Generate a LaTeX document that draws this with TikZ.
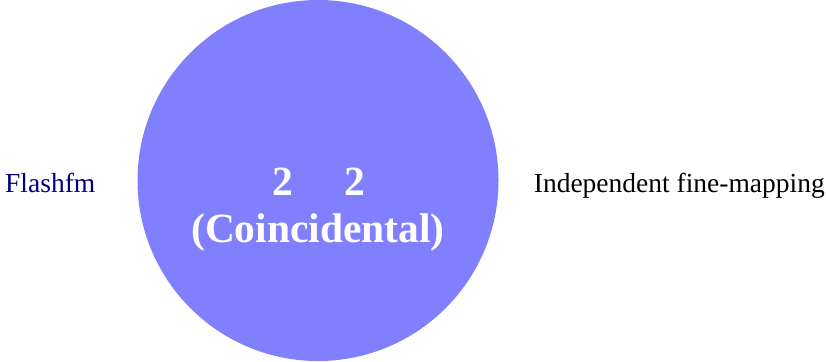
\documentclass[tikz,border=0pt]{standalone}
\usepackage{fontspec}
\setmainfont{Liberation Serif}
\usetikzlibrary{positioning}
\definecolor{vennblue}{HTML}{8080FF}
\definecolor{flashblue}{HTML}{000080}

\begin{document}
\begin{tikzpicture}[x=1pt,y=-1pt,
    setlabel/.style={inner sep=0pt, font=\fontsize{27.5}{30}\selectfont},
    countlabel/.style={inner sep=0pt, text=white, font=\fontsize{41.5}{44}\selectfont\bfseries}]
        % Page size
        \useasboundingbox (0,0) rectangle (826,361);
        % Circle
        \fill[vennblue] (318,180.5) circle (180.5);
        % Counts
        \node[countlabel, anchor=base] (countA) at (283,195) {2};
        \node[countlabel, anchor=base] (countB) at (355,195) {2};
        \node[countlabel, anchor=base] (kind) at (318,242) {(Coincidental)};
        % Set names
        \node[setlabel, anchor=base west, text=flashblue] (flashfm) at (5,192) {Flashfm};
        \node[setlabel, anchor=base east] (indep) at (825,192) {Independent fine-mapping};
      \end{tikzpicture}
\end{document}
